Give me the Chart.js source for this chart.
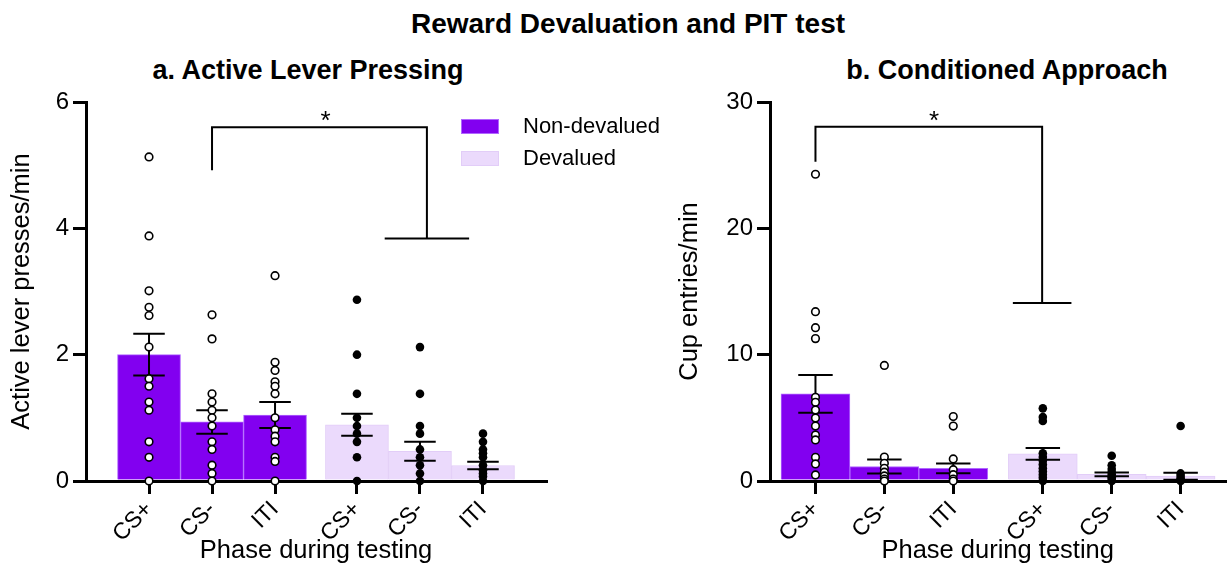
<!DOCTYPE html>
<html>
<head>
<meta charset="utf-8">
<title>Reward Devaluation and PIT test</title>
<script src="https://cdn.jsdelivr.net/npm/chart.js@4.4.1/dist/chart.umd.min.js"></script>
<style>
body { margin: 0; background: #fff; width: 1231px; height: 567px; overflow: hidden; position: relative; font-family: "Liberation Sans", Arial, sans-serif; }
.title { position: absolute; font-weight: bold; white-space: nowrap; color: #000; transform: translateX(-50%); }
#mainTitle { left: 628px; top: 10px; font-size: 28px; line-height: 28px; }
#titleA { left: 308px; top: 57px; font-size: 27px; line-height: 27px; }
#titleB { left: 1007px; top: 57px; font-size: 27px; line-height: 27px; }
#leverChart { position: absolute; left: 0; top: 0; }
#cupChart { position: absolute; left: 640px; top: 0; }
</style>
</head>
<body>
<div class="title" id="mainTitle">Reward Devaluation and PIT test</div>
<div class="title" id="titleA">a. Active Lever Pressing</div>
<div class="title" id="titleB">b. Conditioned Approach</div>
<canvas id="leverChart" width="700" height="567"></canvas>
<canvas id="cupChart" width="591" height="567"></canvas>
<script>
// phases on the x axis (non-devalued then devalued)
const phaseLabels = ["CS+", "CS-", "ITI", "CS+", "CS-", "ITI"];
const phaseX = [1, 2, 3, 4.3, 5.3, 6.3];

// a. active lever presses/min
const leverMeanNon = [2.0, 0.935, 1.045];
const leverSemNon = [0.33, 0.185, 0.205];
const leverMeanDev = [0.89, 0.47, 0.245];
const leverSemDev = [0.175, 0.15, 0.06];
const leverNonCSp = [5.13, 3.88, 3.01, 2.75, 2.62, 2.12, 1.62, 1.5, 1.25, 1.12, 0.62, 0.375, 0];
const leverNonCSm = [2.63, 2.25, 1.38, 1.25, 1.12, 1.0, 0.87, 0.62, 0.5, 0.25, 0.12, 0];
const leverNonITI = [3.25, 1.88, 1.75, 1.57, 1.5, 1.38, 1.0, 0.81, 0.71, 0.62, 0.375, 0.31, 0];
const leverDevCSp = [2.87, 2.0, 1.38, 1.0, 0.87, 0.75, 0.62, 0.375, 0];
const leverDevCSm = [2.12, 1.38, 0.87, 0.75, 0.5, 0.375, 0.25, 0.12, 0];
const leverDevITI = [0.75, 0.62, 0.5, 0.44, 0.375, 0.25, 0.17, 0.12, 0.07, 0];

// b. cup entries/min
const cupMeanNon = [6.9, 1.15, 1.0];
const cupSemNon = [1.49, 0.56, 0.38];
const cupMeanDev = [2.15, 0.52, 0.38];
const cupSemDev = [0.46, 0.15, 0.28];
const cupNonCSp = [24.28, 13.4, 12.14, 11.27, 6.63, 6.23, 5.62, 4.99, 4.35, 3.64, 3.25, 1.88, 1.35, 0.48];
const cupNonCSm = [9.15, 1.9, 1.4, 1.0, 0.7, 0.4, 0.15, 0];
const cupNonITI = [5.1, 4.35, 1.75, 0.9, 0.5, 0.15, 0];
const cupDevCSp = [5.75, 5.07, 4.75, 2.2, 1.9, 1.6, 1.3, 1.0, 0.75, 0.5, 0.25, 0];
const cupDevCSm = [2.0, 1.25, 0.95, 0.7, 0.5, 0.3, 0.15, 0];
const cupDevITI = [4.35, 0.6, 0.4, 0.2, 0.1, 0];

const NON_COLOR = "#8200f0";
const DEV_COLOR = "#ebdafc";
const FONT = "'Liberation Sans', Arial, sans-serif";

Chart.defaults.font.family = FONT;
Chart.defaults.color = "#000";

function barData(xs, means){
    return means.map(function(m, i){ return {x: xs[i], y: m}; });
}

function pointData(xs, groups){
    let pts = [];
    for(let i = 0; i < groups.length; i++)
    {
        for(let v of groups[i])
        {
            pts.push({x: xs[i], y: v});
        }
    }
    return pts;
}

function drawErrorBars(chart, xs, means, sems, half){
    let ctx = chart.ctx;
    let sx = chart.scales.x, sy = chart.scales.y;
    ctx.save();
    ctx.strokeStyle = "#000";
    ctx.lineWidth = 2;
    for(let i = 0; i < means.length; i++)
    {
        let px = sx.getPixelForValue(xs[i]);
        let top = sy.getPixelForValue(means[i] + sems[i]);
        let bot = sy.getPixelForValue(means[i] - sems[i]);
        let l = sx.getPixelForValue(xs[i] - half), r = sx.getPixelForValue(xs[i] + half);
        ctx.beginPath();
        ctx.moveTo(px, top); ctx.lineTo(px, bot);
        ctx.moveTo(l, top); ctx.lineTo(r, top);
        ctx.moveTo(l, bot); ctx.lineTo(r, bot);
        ctx.stroke();
    }
    ctx.restore();
}

function drawBracket(chart, b){
    let ctx = chart.ctx;
    let sx = chart.scales.x, sy = chart.scales.y;
    let x1 = sx.getPixelForValue(b.x1), x2 = sx.getPixelForValue(b.x2);
    let yTop = sy.getPixelForValue(b.yTop);
    ctx.save();
    ctx.strokeStyle = "#000";
    ctx.lineWidth = 2;
    ctx.beginPath();
    ctx.moveTo(x1, sy.getPixelForValue(b.yLeft));
    ctx.lineTo(x1, yTop);
    ctx.lineTo(x2, yTop);
    ctx.lineTo(x2, sy.getPixelForValue(b.yRight));
    ctx.moveTo(sx.getPixelForValue(b.x2 - b.half), sy.getPixelForValue(b.yRight));
    ctx.lineTo(sx.getPixelForValue(b.x2 + b.half), sy.getPixelForValue(b.yRight));
    ctx.stroke();
    ctx.fillStyle = "#000";
    ctx.font = "26px " + FONT;
    ctx.textAlign = "center";
    ctx.textBaseline = "alphabetic";
    ctx.fillText("*", sx.getPixelForValue(b.starX), yTop + 2);
    ctx.restore();
}

function drawLegend(chart){
    let ctx = chart.ctx;
    let a = chart.chartArea;
    let items = [["Non-devalued", NON_COLOR, "#b066ff"], ["Devalued", DEV_COLOR, "#e2cdf8"]];
    ctx.save();
    ctx.font = "22px " + FONT;
    ctx.textAlign = "left";
    ctx.textBaseline = "middle";
    for(let i = 0; i < items.length; i++)
    {
        let bx = a.left + 375, by = a.top + 17 + i * 32;
        ctx.fillStyle = items[i][1];
        ctx.fillRect(bx, by, 38, 15);
        ctx.strokeStyle = items[i][2];
        ctx.lineWidth = 1;
        ctx.strokeRect(bx + 0.5, by + 0.5, 37, 14);
        ctx.fillStyle = "#000";
        ctx.fillText(items[i][0], bx + 62, by + 8);
    }
    ctx.restore();
}

function makePanel(id, p){
    let ctx = document.getElementById(id).getContext("2d");
    let extras = {
        id: "extras",
        afterDatasetDraw: function(chart, args){
            if(args.index === 0) drawErrorBars(chart, phaseX.slice(0, 3), p.meanNon, p.semNon, 0.25);
            if(args.index === 1) drawErrorBars(chart, phaseX.slice(3), p.meanDev, p.semDev, 0.25);
        },
        afterDraw: function(chart){
            drawBracket(chart, p.bracket);
            if(p.legend) drawLegend(chart);
        }
    };
    return new Chart(ctx, {
        type: "bar",
        data: {
            datasets: [
                {label: "Non-devalued", data: barData(phaseX.slice(0, 3), p.meanNon), backgroundColor: NON_COLOR,
                 borderColor: "#b066ff", borderWidth: 1, grouped: false, barPercentage: 1, categoryPercentage: 1, order: 2},
                {label: "Devalued", data: barData(phaseX.slice(3), p.meanDev), backgroundColor: DEV_COLOR,
                 borderColor: "#e2cdf8", borderWidth: 1, grouped: false, barPercentage: 1, categoryPercentage: 1, order: 2},
                {type: "scatter", data: pointData(phaseX.slice(0, 3), p.ptsNon), pointRadius: 3.8, pointBorderWidth: 1.6,
                 pointBackgroundColor: "#fff", pointBorderColor: "#000", clip: false, order: 1},
                {type: "scatter", data: pointData(phaseX.slice(3), p.ptsDev), pointRadius: 4.3, pointBorderWidth: 0,
                 pointBackgroundColor: "#000", pointBorderColor: "#000", clip: false, order: 1}
            ]
        },
        options: {
            responsive: false,
            animation: false,
            events: [],
            layout: {padding: {top: 102, right: p.padRight, bottom: 0, left: 0}},
            plugins: {legend: {display: false}, tooltip: {enabled: false}},
            scales: {
                x: {
                    type: "linear",
                    min: p.xMin,
                    max: p.xMax,
                    offset: false,
                    afterBuildTicks: function(axis){ axis.ticks = phaseX.map(function(v){ return {value: v}; }); },
                    afterFit: function(axis){ axis.height = 86; },
                    ticks: {
                        callback: function(v, i){ return phaseLabels[i]; },
                        autoSkip: false, minRotation: 45, maxRotation: 45,
                        font: {size: 23}, color: "#000", padding: 2
                    },
                    grid: {drawOnChartArea: false, offset: false, color: "#000", lineWidth: 3, tickLength: 13},
                    border: {color: "#000", width: 3},
                    title: {display: true, text: "Phase during testing", font: {size: 25.5}, color: "#000", padding: {top: 0, bottom: 1}}
                },
                y: {
                    min: 0,
                    max: p.yMax,
                    afterFit: function(axis){ axis.width = p.yWidth; },
                    ticks: {stepSize: p.yStep, font: {size: 24}, color: "#000", padding: 4},
                    grid: {drawOnChartArea: false, color: "#000", lineWidth: 3, tickLength: 13},
                    border: {color: "#000", width: 3},
                    title: {display: true, text: p.yTitle, font: {size: 25.5}, color: "#000", padding: {top: p.yTitlePad, bottom: 0}}
                }
            }
        },
        plugins: [extras]
    });
}

makePanel("leverChart", {
    meanNon: leverMeanNon, semNon: leverSemNon, meanDev: leverMeanDev, semDev: leverSemDev,
    ptsNon: [leverNonCSp, leverNonCSm, leverNonITI], ptsDev: [leverDevCSp, leverDevCSm, leverDevITI],
    xMin: 0, xMax: 7.3, yMax: 6, yStep: 2, yWidth: 86, padRight: 154, yTitlePad: 7,
    yTitle: "Active lever presses/min", legend: true,
    bracket: {x1: 2, x2: 5.41, yTop: 5.6, yLeft: 4.92, yRight: 3.84, half: 0.67, starX: 3.8}
});

makePanel("cupChart", {
    meanNon: cupMeanNon, semNon: cupSemNon, meanDev: cupMeanDev, semDev: cupSemDev,
    ptsNon: [cupNonCSp, cupNonCSm, cupNonITI], ptsDev: [cupDevCSp, cupDevCSm, cupDevITI],
    xMin: 0.34, xMax: 6.95, yMax: 30, yStep: 10, yWidth: 130, padRight: 0, yTitlePad: 35,
    yTitle: "Cup entries/min", legend: false,
    bracket: {x1: 1, x2: 4.29, yTop: 28.05, yLeft: 25.28, yRight: 14.09, half: 0.425, starX: 2.72}
});
</script>
</body>
</html>
